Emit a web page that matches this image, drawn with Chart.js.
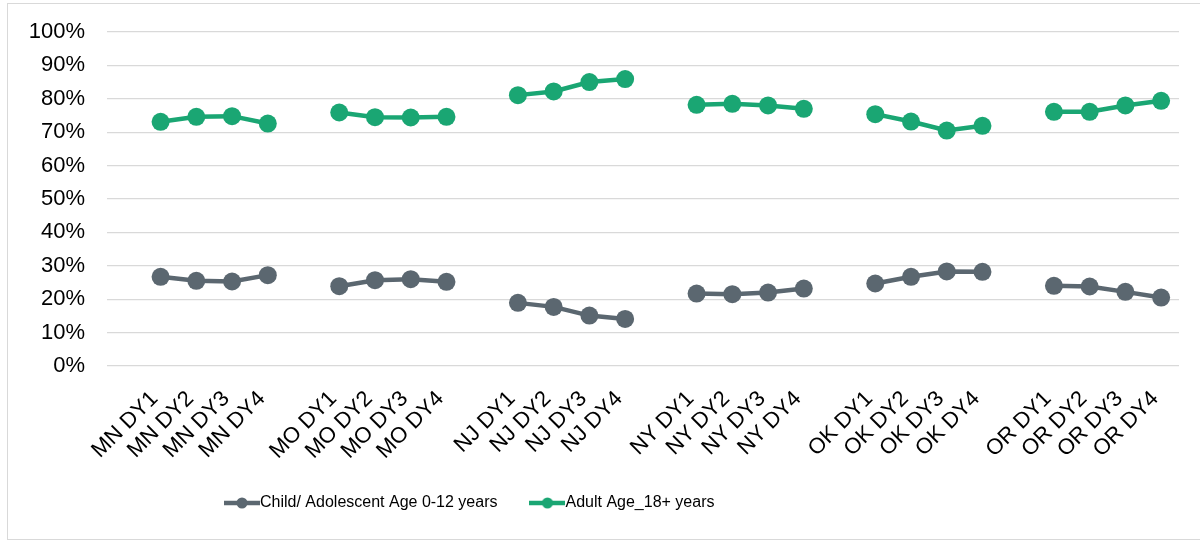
<!DOCTYPE html>
<html>
<head>
<meta charset="utf-8">
<title>Child vs adult share by state and demonstration year</title>
<script src="https://cdn.jsdelivr.net/npm/chart.js@4/dist/chart.umd.min.js"></script>
<style>
  html, body { margin: 0; padding: 0; background: #fff; }
  #frame {
    position: absolute; left: 7px; top: 3px;
    width: 1200px; height: 537px;
    box-sizing: border-box;
    border: 1px solid #d9d9d9;
  }
  #frame canvas { display: block; }
</style>
</head>
<body>
<div id="frame"><canvas id="chart" width="1198" height="535"></canvas></div>
<script>
"use strict";

// blank categories leave the gaps between the state groups
var categoryLabels = [
    '', 'MN DY1', 'MN DY2', 'MN DY3', 'MN DY4',
    '', 'MO DY1', 'MO DY2', 'MO DY3', 'MO DY4',
    '', 'NJ DY1', 'NJ DY2', 'NJ DY3', 'NJ DY4',
    '', 'NY DY1', 'NY DY2', 'NY DY3', 'NY DY4',
    '', 'OK DY1', 'OK DY2', 'OK DY3', 'OK DY4',
    '', 'OR DY1', 'OR DY2', 'OR DY3', 'OR DY4'
];

var childValues = [
    null, 26.7, 25.5, 25.3, 27.2,
    null, 23.9, 25.7, 26.0, 25.2,
    null, 18.9, 17.7, 15.1, 14.1,
    null, 21.7, 21.5, 22.0, 23.2,
    null, 24.7, 26.7, 28.3, 28.2,
    null, 24.0, 23.8, 22.2, 20.5
];

var adultValues = [
    null, 73.1, 74.6, 74.8, 72.6,
    null, 75.9, 74.5, 74.4, 74.6,
    null, 81.1, 82.2, 85.0, 85.9,
    null, 78.2, 78.5, 78.0, 77.0,
    null, 75.4, 73.2, 70.5, 71.9,
    null, 76.1, 76.1, 78.0, 79.4
];

var seriesNames = ['Child/ Adolescent Age 0-12 years', 'Adult Age_18+ years'];
var seriesColors = ['#5b6770', '#1aa673'];

var fontFamily = "'Liberation Sans', Arial, sans-serif";
var legendFontSize = 16;

// legend marker: short line with a dot, like the office style
function legendMark(color) {
    var c = document.createElement('canvas');
    c.width = 36;
    c.height = 12;
    var g = c.getContext('2d');
    g.strokeStyle = color;
    g.lineWidth = 4.5;
    g.beginPath();
    g.moveTo(0, 6);
    g.lineTo(36, 6);
    g.stroke();
    g.fillStyle = color;
    g.beginPath();
    g.arc(18, 6, 5.5, 0, Math.PI * 2);
    g.fill();
    return c;
}

// put the legend row where the original has it (left of centre)
var legendPlacer = {
    id: 'legendPlacer',
    afterLayout: function (chart) {
        var lg = chart.legend;
        var pad = lg.options.labels.padding;
        lg.left = 224 - pad;
        lg.top = 499 - pad - legendFontSize / 2;
    }
};

function makeDataset(i, values) {
    return {
        label: seriesNames[i],
        data: values,
        borderColor: seriesColors[i],
        backgroundColor: seriesColors[i],
        borderWidth: 4.5,
        pointRadius: 9,
        pointHoverRadius: 9,
        pointBorderWidth: 0,
        tension: 0,
        spanGaps: false
    };
}

new Chart(document.getElementById('chart'), {
    type: 'line',
    data: {
        labels: categoryLabels,
        datasets: [makeDataset(0, childValues), makeDataset(1, adultValues)]
    },
    plugins: [legendPlacer],
    options: {
        responsive: false,
        animation: false,
        layout: { padding: { top: 28, left: 0, right: 27, bottom: 13 } },
        scales: {
            x: {
                offset: true,
                grid: { display: false, drawTicks: false },
                border: { display: false },
                ticks: {
                    autoSkip: false,
                    minRotation: 45,
                    maxRotation: 45,
                    padding: 20,
                    labelOffset: -6,
                    color: '#000',
                    font: { family: fontFamily, size: 22 }
                },
                afterFit: function (scale) { scale.height = 120; }
            },
            y: {
                min: 0,
                max: 100,
                grid: { color: '#d9d9d9', lineWidth: 1.3, drawTicks: true, tickLength: 22, tickColor: 'rgba(0,0,0,0)' },
                border: { display: false },
                ticks: {
                    stepSize: 10,
                    padding: 0,
                    color: '#000',
                    font: { family: fontFamily, size: 22 },
                    callback: function (v) { return v + '%'; }
                },
                afterFit: function (scale) { scale.width = 99; }
            }
        },
        plugins: {
            tooltip: { enabled: false },
            legend: {
                position: 'bottom',
                align: 'start',
                maxHeight: 40,
                labels: {
                    usePointStyle: true,
                    pointStyleWidth: 20,
                    padding: 40,
                    color: '#000',
                    font: { family: fontFamily, size: legendFontSize },
                    generateLabels: function (chart) {
                        var items = Chart.defaults.plugins.legend.labels.generateLabels(chart);
                        items.forEach(function (it, i) {
                            it.pointStyle = legendMark(seriesColors[i]);
                        });
                        return items;
                    }
                }
            }
        }
    }
});
</script>
</body>
</html>
